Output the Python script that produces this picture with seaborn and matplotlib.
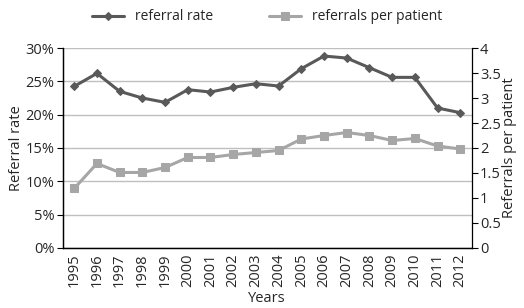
import matplotlib
matplotlib.use("Agg")
import matplotlib.pyplot as plt
import numpy as np
import pandas as pd
import seaborn as sns
from matplotlib.ticker import FixedLocator, PercentFormatter

years = [str(y) for y in range(1995, 2013)]
referral_rate = [24.25, 26.2, 23.5, 22.5, 21.85, 23.75, 23.4, 24.1, 24.65, 24.3,
                 26.9, 28.8, 28.5, 27.05, 25.6, 25.6, 21.0, 20.3]
referrals_per_patient = [1.19, 1.69, 1.51, 1.51, 1.61, 1.81, 1.81, 1.87, 1.91, 1.95,
                         2.18, 2.25, 2.31, 2.25, 2.15, 2.19, 2.04, 1.98]

df = pd.DataFrame({"year": years, "rate": referral_rate, "per_patient": referrals_per_patient})

sns.set_style("white")
plt.rcParams["font.family"] = ["Open Sans", "DejaVu Sans"]
plt.rcParams["font.size"] = 10.5

dark = "#595959"
light = "#A6A6A6"

fig = plt.figure(figsize=(5.24, 3.08), dpi=100)
ax = fig.add_axes([0.120, 0.195, 0.780, 0.649])
ax2 = ax.twinx()

sns.lineplot(data=df, x="year", y="rate", ax=ax, color=dark, marker="D",
             markersize=4.5, markeredgecolor=dark, linewidth=2.2, label="referral rate",
             legend=False, sort=False)
sns.lineplot(data=df, x="year", y="per_patient", ax=ax2, color=light, marker="s",
             markersize=6, markeredgecolor=light, linewidth=2.2, label="referrals per patient",
             legend=False, sort=False)

n = len(years)
ax.set_xlim(-0.5, n - 0.5)
ax.set_ylim(0, 30)
ax.set_yticks(np.arange(0, 31, 5))
ax.yaxis.set_major_formatter(PercentFormatter(decimals=0))
ax2.set_ylim(0, 4)
ax2.set_yticks(np.arange(0, 4.01, 0.5))
ax2.set_yticklabels(["0", "0.5", "1", "1.5", "2", "2.5", "3", "3.5", "4"])

ax.set_xticks(range(n))
ax.set_xticklabels(years, rotation=90)
ax.xaxis.set_minor_locator(FixedLocator(np.arange(-0.5, n, 1)))
ax.tick_params(axis="x", which="major", length=0, pad=4)
ax.tick_params(axis="x", which="minor", length=4, width=0.8, direction="out", color="black")
ax.tick_params(axis="y", length=4, width=0.8, direction="out", color="black", left=True, pad=2)
ax2.tick_params(axis="y", length=4, width=0.8, direction="out", color="black", right=True, pad=2)

ax.yaxis.grid(True, color="#BFBFBF", linewidth=1.0)
ax.set_axisbelow(True)

for a in (ax, ax2):
    a.spines["top"].set_visible(False)
    for s in ("left", "right", "bottom"):
        a.spines[s].set_color("black")
        a.spines[s].set_linewidth(0.9)
ax.spines["right"].set_visible(False)

ax.set_xlabel("Years", labelpad=3)
ax.set_ylabel("Referral rate", labelpad=1)
ax2.set_ylabel("Referrals per patient", labelpad=1)

h1, l1 = ax.get_legend_handles_labels()
h2, l2 = ax2.get_legend_handles_labels()
fig.legend(h1 + h2, l1 + l2, loc="upper center", bbox_to_anchor=(0.51, 1.01), ncol=2,
           frameon=False, columnspacing=4.0, handlelength=2.3, fontsize=10)

fig.savefig("out.png", dpi=100)
